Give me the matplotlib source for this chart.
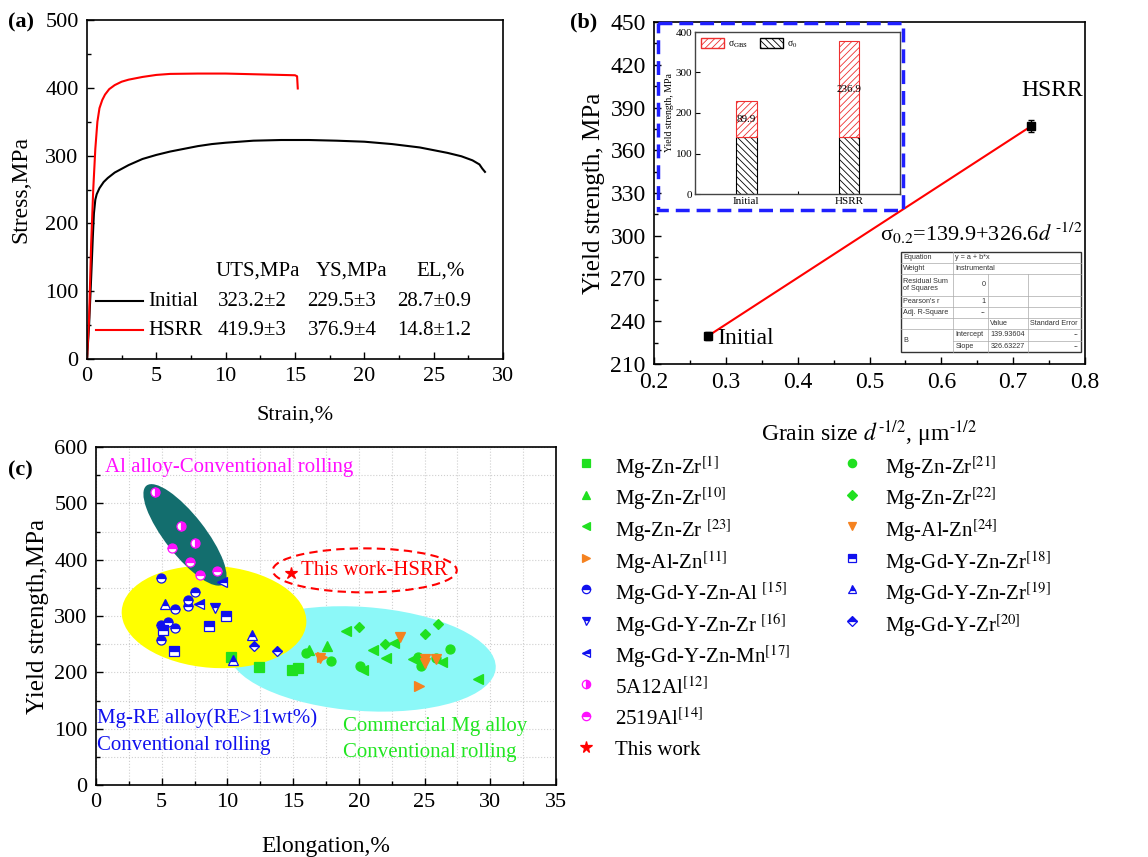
import numpy as np
import matplotlib.pyplot as plt
from matplotlib.patches import Ellipse, Rectangle, Patch
from matplotlib.ticker import MultipleLocator
from matplotlib.transforms import Affine2D

plt.rcParams['font.family'] = ['Liberation Serif', 'DejaVu Serif']
plt.rcParams['mathtext.fontset'] = 'stix'
plt.rcParams['hatch.linewidth'] = 0.6
plt.rcParams['axes.linewidth'] = 1.2

# ---------- (a) tensile curves ----------
init_strain = [0, 0.15, 0.3, 0.42, 0.5, 0.6, 0.7, 0.9, 1.2, 1.5, 2, 3, 4, 5, 6, 7, 8, 9, 10,
               12, 14, 16, 18, 20, 22, 24, 25, 26, 27, 27.8, 28.3, 28.5, 28.7]
init_stress = [0, 50, 120, 180, 215, 235, 243, 252, 261, 267, 275, 286, 295, 301, 306, 310, 314, 317, 319,
               322, 323, 323, 322, 320.5, 317, 312, 308, 304, 299, 293, 287, 281, 276]
hsrr_strain = [0, 0.15, 0.3, 0.45, 0.6, 0.75, 0.9, 1.1, 1.3, 1.6, 2, 2.5, 3, 4, 5, 6, 8, 10,
               12, 14, 15, 15.15, 15.2]
hsrr_stress = [0, 60, 170, 250, 310, 350, 370, 382, 390, 398, 404, 409, 412, 416, 419, 420.5, 421, 421,
               420, 419, 418.5, 417, 399]
samples = ['Initial', 'HSRR']
uts_txt = ['323.2±2', '419.9±3']
ys_txt = ['229.5±3', '376.9±4']
el_txt = ['28.7±0.9', '14.8±1.2']

# ---------- (b) Hall-Petch ----------
grain = [0.2747, 0.7250]
ys_b = [229.5, 376.9]
ys_err = [3, 4]
sigma0 = [139.9, 139.9]
sigma_gbs = [89.9, 236.9]

# ---------- (c) comparison with literature ----------
green = '#20e020'
orange = '#f58220'
blue = '#1010ee'
magenta = '#ff10ff'

mgzr1_el, mgzr1_ys = [10.3, 12.4, 14.9, 15.4], [228, 209, 204, 208]
mgzr10_el, mgzr10_ys = [17.6, 16.2], [246, 240]
mgzr23_el = [19.0, 21.1, 22.1, 22.7, 24.1, 26.35, 29.05, 20.3]
mgzr23_ys = [274, 240, 226, 252, 224, 218, 189, 204]
mgalzn11_el, mgalzn11_ys = [17.2, 24.6], [228, 176]
gdal15_el = [4.95, 7.5, 7.0, 7.0, 6.0, 4.95, 5.5, 6.0, 4.95]
gdal15_ys = [368, 342, 328, 318, 312, 284, 290, 278, 257]
gdzr16_el, gdzr16_ys = [9.05], [314]
gdmn17_el, gdmn17_ys = [7.8, 9.6], [321, 361]
al5a12_el, al5a12_ys = [4.5, 6.5, 7.5], [520, 460, 430]
al2519_el, al2519_ys = [5.8, 7.15, 7.9, 9.2], [420, 395, 373, 380]
this_el, this_ys = [14.8], [376.9]
mgzr21_el = [16.0, 17.9, 20.1, 24.7, 26.9, 24.5, 25.9]
mgzr21_ys = [235, 221, 211, 211, 241, 227, 226]
mgzr22_el, mgzr22_ys = [20.0, 22.0, 25.0, 26.0], [281, 250, 268, 286]
mgalzn24_el, mgalzn24_ys = [23.1, 25.0, 25.9, 17.05, 25.0], [263, 223, 223, 225, 216]
gdzr18_el, gdzr18_ys = [5.1, 8.6, 9.9, 5.9], [275, 282, 300, 238]
gdzr19_el, gdzr19_ys = [5.25, 11.9, 10.4], [321, 266, 222]
gdzr20_el, gdzr20_ys = [12.0, 13.8], [247, 237]

# (label, x, y, marker, colour, fillstyle, legend column)
series = [
    ('Mg-Zn-Zr$^{[1]}$', mgzr1_el, mgzr1_ys, 's', green, 'full', 0),
    ('Mg-Zn-Zr$^{[10]}$', mgzr10_el, mgzr10_ys, '^', green, 'full', 0),
    ('Mg-Zn-Zr $^{[23]}$', mgzr23_el, mgzr23_ys, '<', green, 'full', 0),
    ('Mg-Al-Zn$^{[11]}$', mgalzn11_el, mgalzn11_ys, '>', orange, 'full', 0),
    ('Mg-Gd-Y-Zn-Al $^{[15]}$', gdal15_el, gdal15_ys, 'o', blue, 'top', 0),
    ('Mg-Gd-Y-Zn-Zr $^{[16]}$', gdzr16_el, gdzr16_ys, 'v', blue, 'top', 0),
    ('Mg-Gd-Y-Zn-Mn$^{[17]}$', gdmn17_el, gdmn17_ys, '<', blue, 'top', 0),
    ('5A12Al$^{[12]}$', al5a12_el, al5a12_ys, 'o', magenta, 'right', 0),
    ('2519Al$^{[14]}$', al2519_el, al2519_ys, 'o', magenta, 'top', 0),
    ('This work', this_el, this_ys, '*', 'red', 'full', 0),
    ('Mg-Zn-Zr$^{[21]}$', mgzr21_el, mgzr21_ys, 'o', green, 'full', 1),
    ('Mg-Zn-Zr$^{[22]}$', mgzr22_el, mgzr22_ys, 'D', green, 'full', 1),
    ('Mg-Al-Zn$^{[24]}$', mgalzn24_el, mgalzn24_ys, 'v', orange, 'full', 1),
    ('Mg-Gd-Y-Zn-Zr$^{[18]}$', gdzr18_el, gdzr18_ys, 's', blue, 'top', 1),
    ('Mg-Gd-Y-Zn-Zr$^{[19]}$', gdzr19_el, gdzr19_ys, '^', blue, 'top', 1),
    ('Mg-Gd-Y-Zr$^{[20]}$', gdzr20_el, gdzr20_ys, 'D', blue, 'top', 1),
]

W, H = 1148, 857
fig = plt.figure(figsize=(W / 100, H / 100), dpi=100)


def box(l, t, r, b):
    return [l / W, 1 - b / H, (r - l) / W, (b - t) / H]


def style_ticks(ax, size=16):
    ax.tick_params(which='both', direction='in', top=False, right=False, labelsize=size, width=1)
    ax.tick_params(which='major', length=5, pad=6)
    ax.tick_params(which='minor', length=3)


def draw_marker(ax, x, y, m, c, fs, ms):
    size = ms * 1.4 if m == '*' else (ms * 0.85 if m == 'D' else ms)
    ax.plot(x, y, ls='none', marker=m, markersize=size, markerfacecolor=c, markeredgecolor=c,
            fillstyle=fs, markerfacecoloralt='white', markeredgewidth=0.9, zorder=5)


# ===== (a) =====
axa = fig.add_axes(box(87, 20, 503, 359))
axa.plot(init_strain, init_stress, color='black', lw=1.5)
axa.plot(hsrr_strain, hsrr_stress, color='red', lw=1.5)
axa.set_xlim(0, 30)
axa.set_ylim(0, 500)
axa.xaxis.set_major_locator(MultipleLocator(5))
axa.xaxis.set_minor_locator(MultipleLocator(2.5))
axa.yaxis.set_major_locator(MultipleLocator(100))
axa.yaxis.set_minor_locator(MultipleLocator(50))
style_ticks(axa)
axa.set_xlabel('Strain,%', fontsize=16, labelpad=14)
axa.set_ylabel('Stress,MPa', fontsize=17, labelpad=10)

tr = axa.transAxes
for txt, x in zip(['UTS,MPa', 'YS,MPa', 'EL,%'], [0.411, 0.637, 0.851]):
    axa.text(x, 0.26, txt, transform=tr, ha='center', va='center', fontsize=15)
for i, (name, col) in enumerate(zip(samples, ['black', 'red'])):
    yy = [0.171, 0.0855][i]
    axa.plot([0.022, 0.135], [yy, yy], transform=tr, color=col, lw=1.5)
    axa.text(0.147, yy, name, transform=tr, ha='left', va='center', fontsize=15)
    axa.text(0.397, yy, uts_txt[i], transform=tr, ha='center', va='center', fontsize=15)
    axa.text(0.613, yy, ys_txt[i], transform=tr, ha='center', va='center', fontsize=15)
    axa.text(0.834, yy, el_txt[i], transform=tr, ha='center', va='center', fontsize=15)

# ===== (b) =====
axb = fig.add_axes(box(654, 22, 1085, 364))
axb.plot(grain, ys_b, color='red', lw=1.5, zorder=2)
axb.errorbar(grain, ys_b, yerr=ys_err, fmt='s', color='black', ms=6, capsize=2.5, elinewidth=1, zorder=3)
axb.set_xlim(0.2, 0.8)
axb.set_ylim(210, 450)
axb.xaxis.set_major_locator(MultipleLocator(0.1))
axb.xaxis.set_minor_locator(MultipleLocator(0.05))
axb.yaxis.set_major_locator(MultipleLocator(30))
axb.yaxis.set_minor_locator(MultipleLocator(15))
style_ticks(axb, 17)
axb.set_xlabel(r'Grain size $d^{\text{-1/2}}$, μm$^{\text{-1/2}}$', fontsize=17, labelpad=18)
axb.set_ylabel('Yield strength, MPa', fontsize=18, labelpad=4)
axb.text(grain[0] + 0.013, ys_b[0] - 1.5, samples[0], fontsize=17, ha='left', va='center')
axb.text(0.754, 402, samples[1], fontsize=17, ha='center', va='center')
axb.text(0.797, 302, r'σ$_{\text{0.2}}$=139.9+326.6$d^{\text{ -1/2}}$', fontsize=16, ha='right', va='center')

# inset bar chart
axi = fig.add_axes(box(695, 32, 900, 194))
xpos = np.arange(1, len(samples) + 1)
axi.bar(xpos, sigma0, width=0.2, color='white', edgecolor='black', hatch='\\\\\\\\\\', lw=0.8)
axi.bar(xpos, sigma_gbs, width=0.2, bottom=sigma0, color='white', edgecolor='#ee3030',
        hatch='/////', lw=0.8)
for x, s0, g in zip(xpos, sigma0, sigma_gbs):
    axi.text(x, s0 + g * 0.5, f'{g}', ha='center', va='center', fontsize=8)
axi.set_xlim(0.5, 2.5)
axi.set_ylim(0, 400)
axi.set_xticks(xpos)
axi.set_xticklabels(samples)
axi.xaxis.set_minor_locator(MultipleLocator(0.5))
axi.yaxis.set_major_locator(MultipleLocator(100))
axi.tick_params(which='both', direction='in', top=False, right=False, labelsize=8, width=0.8, pad=2)
axi.tick_params(which='major', axis='x', length=0)
axi.tick_params(which='minor', axis='x', length=2)
axi.tick_params(which='minor', axis='y', length=0)
axi.set_ylabel('Yield strength, MPa', fontsize=7, labelpad=1)
for s in axi.spines.values():
    s.set_color('#444444')
    s.set_linewidth(1)
axi.legend([Patch(facecolor='white', edgecolor='#ee3030', hatch='/////'),
            Patch(facecolor='white', edgecolor='black', hatch='\\\\\\\\\\')],
           [r'σ$_{\text{GBS}}$', r'σ$_{0}$'], loc='upper left', ncol=2, fontsize=7,
           frameon=False, handlelength=2.4, handleheight=1.2, columnspacing=1.2,
           borderaxespad=0.2, handletextpad=0.4)

# ===== (c) =====
axc = fig.add_axes(box(96, 447, 556, 785))
axc.set_xlim(0, 35)
axc.set_ylim(0, 600)
axc.xaxis.set_major_locator(MultipleLocator(5))
axc.xaxis.set_minor_locator(MultipleLocator(2.5))
axc.yaxis.set_major_locator(MultipleLocator(100))
axc.yaxis.set_minor_locator(MultipleLocator(50))
style_ticks(axc)
axc.grid(which='both', ls=':', color='#cfcfcf', lw=0.8)
axc.set_axisbelow(True)
axc.set_xlabel('Elongation,%', fontsize=17, labelpad=17)
axc.set_ylabel('Yield strength,MPa', fontsize=18, labelpad=4)

px_x = 460 / 35
px_y = 338 / 600


def region(cx, cy, w, h, ang, **kw):
    t = Affine2D().scale(1 / px_x, 1 / px_y).translate(cx, cy) + axc.transData
    axc.add_patch(Ellipse((0, 0), w, h, angle=ang, transform=t, **kw))


region(20.24, 223.8, 268, 104, -4, facecolor='#8cf8f8', edgecolor='none', zorder=1)
region(8.98, 298.4, 185, 102, -4, facecolor='#ffff00', edgecolor='none', zorder=1.1)
region(6.77, 444, 125, 40, -52, facecolor='#136e6e', edgecolor='none', zorder=1.2)
region(20.45, 381, 184, 44, 0, facecolor='none', edgecolor='red', lw=1.5, ls=(0, (4, 2.5)), zorder=1.3)

for label, x, y, m, c, fs, col in series:
    draw_marker(axc, x, y, m, c, fs, 6.5)

axc.text(0.7, 563, 'Al alloy-Conventional rolling', color=magenta, fontsize=15, va='center')
axc.text(15.6, 380, 'This work-HSRR', color='red', fontsize=15, va='center')
axc.text(0.1, 119, 'Mg-RE alloy(RE>11wt%)', color=blue, fontsize=15, va='center')
axc.text(0.1, 71, 'Conventional rolling', color=blue, fontsize=15, va='center')
axc.text(18.8, 103, 'Commercial Mg alloy', color='#22e622', fontsize=15, va='center')
axc.text(18.8, 57, 'Conventional rolling', color='#22e622', fontsize=15, va='center')

# ===== overlay: panel tags, legend of (c), fit table, inset frame =====
ov = fig.add_axes([0, 0, 1, 1])
ov.set_xlim(0, W)
ov.set_ylim(H, 0)
ov.axis('off')

for tag, x, y in [('(a)', 8, 22), ('(b)', 570, 22), ('(c)', 8, 470)]:
    ov.text(x, y, tag, fontsize=16, fontweight='bold', va='center')

rows = [0, 0]
for label, x, y, m, c, fs, col in series:
    mx, tx = (586, 615) if col == 0 else (852, 885)
    ry = 463 + 31.6 * rows[col]
    rows[col] += 1
    draw_marker(ov, mx, ry, m, c, fs, 6)
    ov.text(tx, ry + 1, label, fontsize=15, va='center_baseline')

ov.add_patch(Rectangle((658, 23), 245, 187, fill=False, edgecolor='#1f1fff', lw=2.5,
                       ls=(0, (4, 2)), zorder=6))

# fit result table
tx = [901, 953.3, 988.3, 1028.3, 1081]
ty = [252.3, 263.3, 274.3, 295.7, 306.7, 318.3, 329.3, 340.7, 352.3]
ov.add_patch(Rectangle((tx[0], ty[0]), tx[-1] - tx[0], ty[-1] - ty[0], facecolor='white',
                       edgecolor='#333333', lw=1, zorder=3))
for i, yy in enumerate(ty[1:-1], start=1):
    x0 = tx[1] if i == 7 else tx[0]
    ov.plot([x0, tx[-1]], [yy, yy], color='#aaaaaa', lw=0.5, zorder=4)
ov.plot([tx[1], tx[1]], [ty[0], ty[-1]], color='#aaaaaa', lw=0.5, zorder=4)
for xx in tx[2:4]:
    ov.plot([xx, xx], [ty[2], ty[-1]], color='#aaaaaa', lw=0.5, zorder=4)

cells = [
    (0, 0, 'Equation', 'l'), (0, 1, 'y = a + b*x', 'l'),
    (1, 0, 'Weight', 'l'), (1, 1, 'Instrumental', 'l'),
    (2, 0, 'Residual Sum\nof Squares', 'l'), (2, 1, '0', 'r'),
    (3, 0, "Pearson's r", 'l'), (3, 1, '1', 'r'),
    (4, 0, 'Adj. R-Square', 'l'), (4, 1, '--', 'r'),
    (5, 2, 'Value', 'l'), (5, 3, 'Standard Error', 'l'),
    (6, 1, 'Intercept', 'l'), (6, 2, '139.93604', 'r'), (6, 3, '--', 'r'),
    (7, 1, 'Slope', 'l'), (7, 2, '326.63227', 'r'), (7, 3, '--', 'r'),
]
for r, c, txt, al in cells:
    yy = (ty[r] + ty[r + 1]) / 2
    xx = tx[c] + 2 if al == 'l' else tx[c + 1] - 3
    ov.text(xx, yy, txt, fontsize=5.2, family='Liberation Sans', color='#333333',
            ha='left' if al == 'l' else 'right', va='center', zorder=5, linespacing=1.0)
ov.text(tx[0] + 2, (ty[6] + ty[8]) / 2, 'B', fontsize=5.2, family='Liberation Sans',
        color='#333333', va='center', zorder=5)

fig.savefig('out.png', dpi=100)
